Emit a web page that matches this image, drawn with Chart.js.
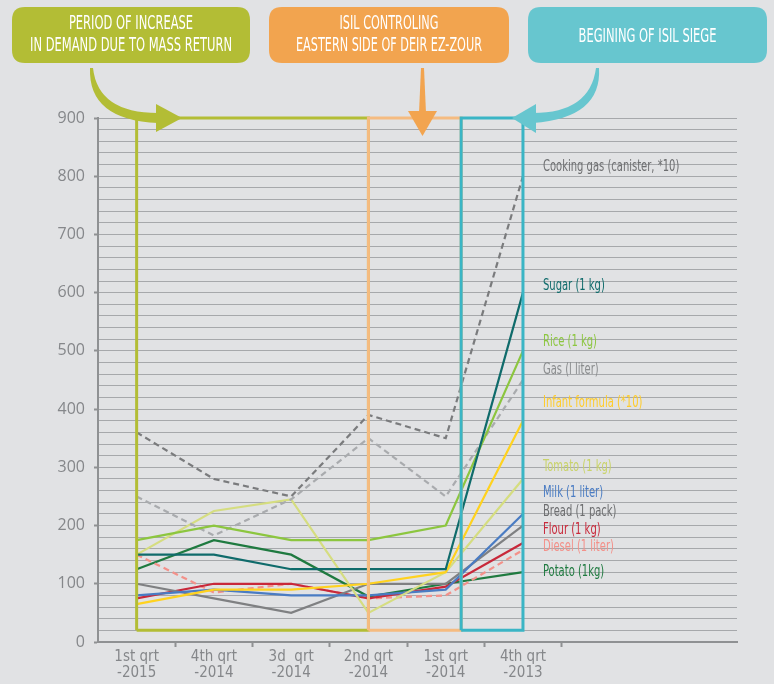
<!DOCTYPE html>
<html><head><meta charset="utf-8">
<script src="https://cdn.jsdelivr.net/npm/chart.js@4/dist/chart.umd.min.js"></script>
<style>
html,body{margin:0;padding:0;background:#e1e2e4;}
#wrap{width:774px;height:684px;position:relative;}
</style></head><body>
<div id="wrap"><canvas id="c" width="774" height="684"></canvas></div>
<script>
// ---------- data ----------
const quarters = [['1st qrt','-2015'],['4th qrt','-2014'],['3d  qrt','-2014'],['2nd qrt','-2014'],['1st qrt','-2014'],['4th qrt','-2013']];
const cookingGas    = [360, 280, 250, 390, 350, 800];
const sugar         = [150, 150, 125, 125, 125, 600];
const rice          = [175, 200, 175, 175, 200, 500];
const gas           = [250, 183, 245, 350, 250, 450];
const infantFormula = [ 65,  90,  90, 100, 120, 380];
const tomato        = [150, 225, 245,  50, 120, 280];
const milk          = [ 80,  90,  80,  80,  90, 220];
const bread         = [100,  75,  50, 100, 100, 200];
const flour         = [ 75, 100, 100,  75,  95, 170];
const diesel        = [150,  85, 100,  75,  80, 158];
const potato        = [125, 175, 150,  78, 100, 120];
const seriesNames = ['Cooking gas (canister, *10)','Sugar (1 kg)','Rice (1 kg)','Gas (l liter)','Infant formula (*10)','Tomato (1 kg)','Milk (1 liter)','Bread (1 pack)','Flour (1 kg)','Diesel (1 liter)','Potato (1kg)'];
const labelValues = [816, 611, 515, 467, 410, 301, 256, 223, 192, 163, 120];
const yTickValues = [0,100,200,300,400,500,600,700,800,900];
// period boxes: edges in quarter index units, floor and top in value units
const periodEdges = [0, 3, 4.2, 5];
const periodFloor = 20, periodTop = 900;
const bannerTexts = [['PERIOD OF INCREASE','IN DEMAND DUE TO MASS RETURN'],['ISIL CONTROLING','EASTERN SIDE OF DEIR EZ-ZOUR'],['BEGINING OF ISIL SIEGE']];

// ---------- styles ----------
const FONT = "'Liberation Sans Narrow','DejaVu Sans Condensed','Roboto Condensed','Liberation Sans',sans-serif";
const seriesData = [cookingGas,sugar,rice,gas,infantFormula,tomato,milk,bread,flour,diesel,potato];
const lineColors = ['#7a7b7d','#0f6b6b','#8cc63f','#a9abae','#ffd21f','#d5dd80','#4a7cc3','#7f8082','#c8283a','#f3918a','#1f7a40'];
const textColors = ['#6d6e70','#0f6b6b','#8cc63f','#8a8c8e','#ffcc29','#c9d36a','#4a7cc3','#6d6e70','#c8283a','#f3918a','#1f7a40'];
const dashed = [true,false,false,true,false,false,false,false,false,true,false];
const boxColors = ['#b3bd35','#f5bb80','#3ab5c5'];
const bannerColors = ['#b3bd35','#f2a44f','#67c6cf'];

const datasets = seriesData.map((arr,i)=>({
  label: seriesNames[i],
  data: arr.map((v,j)=>({x:j,y:v})),
  borderColor: lineColors[i],
  borderWidth: 2.2,
  borderDash: dashed[i] ? [6,4] : [],
  pointRadius: 0,
  tension: 0,
  fill: false,
  clip: 4
}));
for (let k=0;k<3;k++){
  const a = periodEdges[k], b = periodEdges[k+1];
  datasets.push({
    label: 'period'+k,
    data: [{x:a,y:periodFloor},{x:a,y:periodTop},{x:b,y:periodTop},{x:b,y:periodFloor},{x:a,y:periodFloor}],
    borderColor: boxColors[k],
    borderWidth: 3,
    pointRadius: 0,
    tension: 0,
    fill: false,
    clip: 6,
    order: -1 - k
  });
}

function roundRect(ctx,x,y,w,h,r){
  ctx.beginPath();
  ctx.moveTo(x+r,y); ctx.lineTo(x+w-r,y); ctx.quadraticCurveTo(x+w,y,x+w,y+r);
  ctx.lineTo(x+w,y+h-r); ctx.quadraticCurveTo(x+w,y+h,x+w-r,y+h);
  ctx.lineTo(x+r,y+h); ctx.quadraticCurveTo(x,y+h,x,y+h-r);
  ctx.lineTo(x,y+r); ctx.quadraticCurveTo(x,y,x+r,y); ctx.closePath();
}
function fitLines(ctx, lines, cx, ys, targetW){
  const widest = lines.reduce((m,l)=>Math.max(m,ctx.measureText(l).width),0);
  const s = targetW/widest;
  lines.forEach((l,i)=>{
    ctx.save(); ctx.translate(cx, ys[i]); ctx.scale(s,1);
    ctx.fillText(l,0,0); ctx.restore();
  });
}

const bgPlugin = {
  id:'bg',
  beforeDraw(chart){
    const c=chart.ctx; c.save(); c.fillStyle='#e1e2e4'; c.fillRect(0,0,chart.width,chart.height); c.restore();
  }
};

const decoPlugin = {
  id:'deco',
  afterDatasetsDraw(chart){
    const c = chart.ctx, top = chart.chartArea.top;
    c.save();
    // banners
    const boxes = [[12,7,238,56],[269,7,240,56],[528,7,239,56]];
    const widths = [202,186,138];
    c.font = "19px "+FONT; c.textAlign='center'; c.textBaseline='middle';
    boxes.forEach((b,i)=>{
      c.fillStyle = bannerColors[i];
      roundRect(c,b[0],b[1],b[2],b[3],13); c.fill();
      c.fillStyle = '#ffffff';
      const lines = bannerTexts[i];
      const ys = lines.length===2 ? [b[1]+17,b[1]+39] : [b[1]+30];
      fitLines(c, lines, b[0]+b[2]/2, ys, widths[i]);
    });
    // green curved arrow
    c.fillStyle = bannerColors[0];
    c.beginPath();
    c.moveTo(93,68); c.quadraticCurveTo(98,top-5,158,top-5);
    c.lineTo(158,top+5); c.quadraticCurveTo(88,top+2,90,68); c.closePath(); c.fill();
    c.beginPath(); c.moveTo(156,top-14); c.lineTo(182,top); c.lineTo(156,top+14); c.closePath(); c.fill();
    // orange straight arrow
    c.fillStyle = bannerColors[1];
    c.beginPath(); c.moveTo(421,68); c.lineTo(424,68); c.lineTo(426,top-5); c.lineTo(419,top-5); c.closePath(); c.fill();
    c.beginPath(); c.moveTo(408,top-7); c.lineTo(437,top-7); c.lineTo(422.5,top+18); c.closePath(); c.fill();
    // teal curved arrow
    c.fillStyle = bannerColors[2];
    c.beginPath();
    c.moveTo(596,68); c.quadraticCurveTo(590,top-5,533,top-5);
    c.lineTo(533,top+5); c.quadraticCurveTo(602,top,599,68); c.closePath(); c.fill();
    c.beginPath(); c.moveTo(536,top-14); c.lineTo(512,top); c.lineTo(536,top+15); c.closePath(); c.fill();
    c.restore();
  },
  afterDraw(chart){
    const c = chart.ctx, xs = chart.scales.x, ys = chart.scales.y;
    const lx = xs.getPixelForValue(quarters.length-1) + 20;
    c.save();
    c.font = "15px "+FONT; c.textAlign='left'; c.textBaseline='middle';
    seriesNames.forEach((n,i)=>{
      c.fillStyle = textColors[i];
      c.save(); c.translate(lx, ys.getPixelForValue(labelValues[i])); c.scale(0.74,1);
      c.fillText(n, 0, 0); c.restore();
    });
    c.restore();
  }
};

const halfTick = v => Math.abs(v - Math.round(v)) > 0.01;

new Chart(document.getElementById('c'), {
  type:'line',
  data:{datasets},
  plugins:[bgPlugin, decoPlugin],
  options:{
    responsive:false,
    animation:false,
    events:[],
    layout:{padding:{top:118,right:37,left:0,bottom:0}},
    plugins:{legend:{display:false},tooltip:{enabled:false},title:{display:false}},
    scales:{
      x:{
        type:'linear',
        min:-0.5, max:7.77,
        afterBuildTicks(scale){
          const t=[]; for(let v=-0.5; v<=7.51; v+=0.5) t.push({value:Math.round(v*10)/10});
          scale.ticks=t;
        },
        afterFit(scale){ scale.height = 42; },
        ticks:{
          autoSkip:false, maxRotation:0, minRotation:0, padding:2,
          color:'#85878a', font:{family:FONT, size:15, lineHeight:1.07},
          callback(v){ return (!halfTick(v) && v>=0 && v<quarters.length) ? quarters[Math.round(v)] : ''; }
        },
        grid:{drawOnChartArea:false, drawTicks:true, tickLength:5,
          tickColor: ctx => (ctx.tick && halfTick(ctx.tick.value) && ctx.tick.value > 0 && ctx.tick.value < quarters.length) ? '#8f9193' : 'rgba(0,0,0,0)',
          tickWidth:2},
        border:{display:true,color:'#8f9193',width:2}
      },
      y:{
        min:0, max:900,
        afterBuildTicks(scale){
          const t=[]; for(let v=0; v<=900; v+=20) t.push({value:v});
          scale.ticks=t;
        },
        afterFit(scale){ scale.width = 98; },
        ticks:{autoSkip:false, padding:9, color:'#85878a', font:{family:"'Open Sans','Liberation Sans',sans-serif", size:16},
          callback(v){ return yTickValues.includes(v) ? String(v) : ''; }},
        grid:{color:'#a6a8ab', lineWidth:1, tickLength:4,
          tickColor: ctx => (ctx.tick && yTickValues.includes(ctx.tick.value)) ? '#8f9193' : 'rgba(0,0,0,0)',
          tickWidth:2},
        border:{display:true,color:'#8f9193',width:2}
      }
    }
  }
});
</script>
</body></html>
